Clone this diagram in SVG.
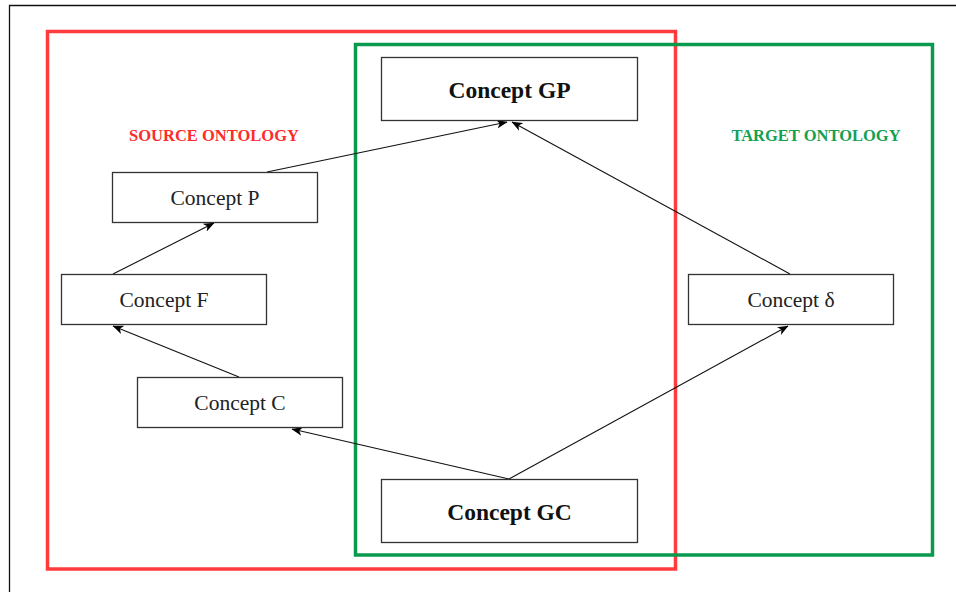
<svg xmlns="http://www.w3.org/2000/svg" width="956" height="592" viewBox="0 0 956 592">
  <defs>
    <marker id="arrow" viewBox="0 0 10 8" refX="9.5" refY="4" markerWidth="11" markerHeight="9" markerUnits="userSpaceOnUse" orient="auto">
      <path d="M0,0 L10,4 L0,8 L2.8,4 Z" fill="#000"/>
    </marker>
    <style>
      .node rect { fill: #fff; stroke: #333; stroke-width: 1.3; }
      .label { font-family: "Liberation Serif", "Times New Roman", serif; font-size: 21.5px; fill: #222; text-anchor: middle; }
      .bold { font-weight: bold; font-size: 23.5px; fill: #111; }
      .title { font-family: "Liberation Serif", "Times New Roman", serif; font-size: 16.5px; font-weight: bold; text-anchor: middle; }
      .edge { stroke: #111; stroke-width: 1.1; fill: none; marker-end: url(#arrow); }
    </style>
  </defs>

  <rect width="956" height="592" fill="#fff"/>
  <!-- page frame -->
  <path d="M9.5,592 V5.5 H956" fill="none" stroke="#111" stroke-width="1.3"/>

  <!-- ontology regions -->
  <g id="source-ontology">
    <rect x="47.5" y="31.5" width="628" height="537.5" fill="none" stroke="#ff3b3b" stroke-width="3.5"/>
    <text class="title" x="214" y="141" fill="#ff2a2a">SOURCE ONTOLOGY</text>
  </g>
  <g id="target-ontology">
    <rect x="355.5" y="44.5" width="577" height="510.5" fill="none" stroke="#0a9a4e" stroke-width="3.5"/>
    <text class="title" x="816" y="141" fill="#14a052">TARGET ONTOLOGY</text>
  </g>

  <!-- connectors -->
  <g id="connectors">
    <line class="edge" x1="267" y1="172" x2="507" y2="122"/>
    <line class="edge" x1="790" y1="274" x2="512" y2="122"/>
    <line class="edge" x1="113" y1="274" x2="214" y2="223"/>
    <line class="edge" x1="239" y1="377" x2="113" y2="326"/>
    <line class="edge" x1="509" y1="479" x2="292" y2="429"/>
    <line class="edge" x1="509" y1="479" x2="788" y2="326"/>
  </g>

  <!-- concepts -->
  <g id="concept-gp" class="node">
    <rect x="381.5" y="57.5" width="256" height="63"/>
    <text class="label bold" x="509.5" y="97.5">Concept GP</text>
  </g>
  <g id="concept-p" class="node">
    <rect x="112.5" y="172.5" width="205" height="50"/>
    <text class="label" x="215" y="205">Concept P</text>
  </g>
  <g id="concept-f" class="node">
    <rect x="61.5" y="274.5" width="205" height="50"/>
    <text class="label" x="164" y="307">Concept F</text>
  </g>
  <g id="concept-c" class="node">
    <rect x="137.5" y="377.5" width="205" height="50"/>
    <text class="label" x="240" y="410">Concept C</text>
  </g>
  <g id="concept-delta" class="node">
    <rect x="688.5" y="274.5" width="205" height="50"/>
    <text class="label" x="791" y="307">Concept δ</text>
  </g>
  <g id="concept-gc" class="node">
    <rect x="381.5" y="479.5" width="256" height="63"/>
    <text class="label bold" x="509.5" y="519.5">Concept GC</text>
  </g>
</svg>
